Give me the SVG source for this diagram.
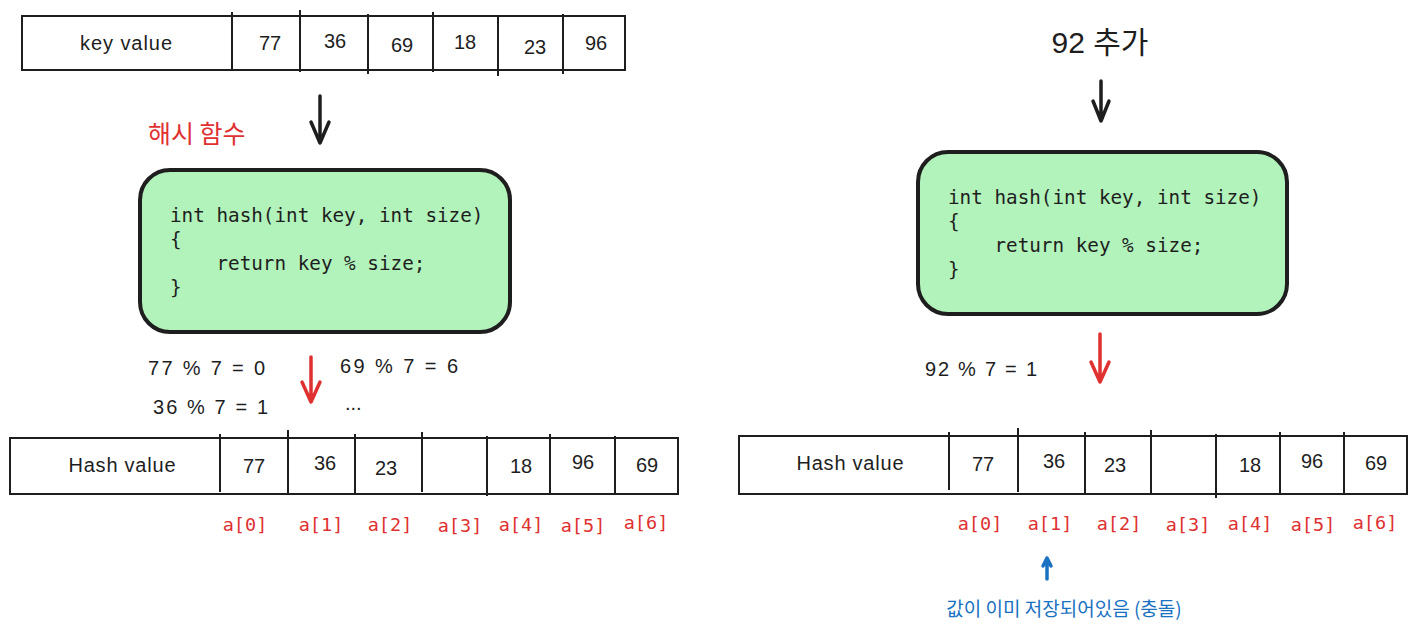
<svg xmlns="http://www.w3.org/2000/svg" width="1417" height="635" viewBox="0 0 1417 635">
<style>
.cell{fill:none;stroke:#1e1e1e;stroke-width:2}
.div{stroke:#1e1e1e;stroke-width:2}
.hand{font-family:"Liberation Sans","Noto Sans CJK KR",sans-serif;font-size:20px;fill:#1e1e1e}
.code{font-family:"DejaVu Sans Mono","Liberation Mono",monospace;font-size:19.3px;fill:#1e1e1e;white-space:pre}
.idx{font-family:"DejaVu Sans Mono","Liberation Mono",monospace;font-size:18.5px;fill:#e03131}
.box{fill:#b2f2bb;stroke:#1e1e1e;stroke-width:4}
.arr{fill:none;stroke-width:3.5;stroke-linecap:round;stroke-linejoin:round}
</style>

<g id="key-table">
<rect class="cell" x="22" y="16" width="603" height="54"/>
<line class="div" x1="232" y1="12" x2="232" y2="70"/>
<line class="div" x1="300" y1="10" x2="300" y2="72"/>
<line class="div" x1="368" y1="14" x2="368" y2="74"/>
<line class="div" x1="433" y1="12" x2="433" y2="72"/>
<line class="div" x1="498" y1="16" x2="498" y2="76"/>
<line class="div" x1="563" y1="14" x2="563" y2="74"/>
<text class="hand" x="126" y="50" text-anchor="middle" textLength="92">key value</text>
<text class="hand" x="270" y="50" text-anchor="middle">77</text>
<text class="hand" x="335" y="48" text-anchor="middle">36</text>
<text class="hand" x="402" y="52" text-anchor="middle">69</text>
<text class="hand" x="465" y="49" text-anchor="middle">18</text>
<text class="hand" x="535" y="54" text-anchor="middle">23</text>
<text class="hand" x="596" y="50" text-anchor="middle">96</text>
</g>

<g id="label-hash-fn">
<text x="148" y="143" font-family="'Noto Sans CJK KR',sans-serif" font-size="25" fill="#e03131">해시 함수</text>
</g>

<g id="hash-box-left">
<rect class="box" x="140" y="170" width="370" height="162" rx="30"/>
<text class="code" x="170" y="222">int hash(int key, int size)</text>
<text class="code" x="170" y="246">{</text>
<text class="code" x="170" y="270" xml:space="preserve">    return key % size;</text>
<text class="code" x="170" y="294">}</text>
</g>

<g id="calc-left">
<text class="hand" x="148" y="375" textLength="117">77 % 7 = 0</text>
<text class="hand" x="340" y="373" textLength="118">69 % 7 = 6</text>
<text class="hand" x="153" y="414" textLength="115">36 % 7 = 1</text>
<text class="hand" x="345" y="410">...</text>
</g>

<g id="hash-table-left">
<rect class="cell" x="10" y="438" width="668" height="56"/>
<line class="div" x1="220" y1="434" x2="220" y2="492"/>
<line class="div" x1="288" y1="430" x2="288" y2="494"/>
<line class="div" x1="355" y1="434" x2="355" y2="494"/>
<line class="div" x1="422" y1="432" x2="422" y2="492"/>
<line class="div" x1="487" y1="436" x2="487" y2="496"/>
<line class="div" x1="550" y1="434" x2="550" y2="494"/>
<line class="div" x1="615" y1="436" x2="615" y2="494"/>
<text class="hand" x="122" y="472" text-anchor="middle" textLength="107">Hash value</text>
<text class="hand" x="254" y="473" text-anchor="middle">77</text>
<text class="hand" x="325" y="470" text-anchor="middle">36</text>
<text class="hand" x="386" y="475" text-anchor="middle">23</text>
<text class="hand" x="521" y="473" text-anchor="middle">18</text>
<text class="hand" x="583" y="469" text-anchor="middle">96</text>
<text class="hand" x="647" y="472" text-anchor="middle">69</text>
</g>

<g id="index-left">
<text class="idx" x="245" y="531" text-anchor="middle">a[0]</text>
<text class="idx" x="321" y="531" text-anchor="middle">a[1]</text>
<text class="idx" x="390" y="531" text-anchor="middle">a[2]</text>
<text class="idx" x="460" y="532" text-anchor="middle">a[3]</text>
<text class="idx" x="521" y="531" text-anchor="middle">a[4]</text>
<text class="idx" x="583" y="532" text-anchor="middle">a[5]</text>
<text class="idx" x="646" y="529" text-anchor="middle">a[6]</text>
</g>

<g id="label-add92">
<text x="1100" y="53" text-anchor="middle" font-family="'Liberation Sans','Noto Sans CJK KR',sans-serif" font-size="30" fill="#1e1e1e">92 추가</text>
</g>

<g id="hash-box-right">
<rect class="box" x="918" y="152" width="369" height="162" rx="30"/>
<text class="code" x="948" y="204">int hash(int key, int size)</text>
<text class="code" x="948" y="228">{</text>
<text class="code" x="948" y="252" xml:space="preserve">    return key % size;</text>
<text class="code" x="948" y="276">}</text>
</g>

<g id="calc-right">
<text class="hand" x="925" y="376" textLength="112">92 % 7 = 1</text>
</g>

<g id="hash-table-right">
<rect class="cell" x="739" y="436" width="668" height="58"/>
<line class="div" x1="949" y1="432" x2="949" y2="490"/>
<line class="div" x1="1018" y1="428" x2="1018" y2="492"/>
<line class="div" x1="1085" y1="432" x2="1085" y2="494"/>
<line class="div" x1="1151" y1="430" x2="1151" y2="494"/>
<line class="div" x1="1216" y1="434" x2="1216" y2="498"/>
<line class="div" x1="1280" y1="432" x2="1280" y2="494"/>
<line class="div" x1="1344" y1="432" x2="1344" y2="494"/>
<text class="hand" x="850" y="470" text-anchor="middle" textLength="107">Hash value</text>
<text class="hand" x="983" y="471" text-anchor="middle">77</text>
<text class="hand" x="1054" y="468" text-anchor="middle">36</text>
<text class="hand" x="1115" y="472" text-anchor="middle">23</text>
<text class="hand" x="1250" y="472" text-anchor="middle">18</text>
<text class="hand" x="1312" y="468" text-anchor="middle">96</text>
<text class="hand" x="1376" y="470" text-anchor="middle">69</text>
</g>

<g id="index-right">
<text class="idx" x="980" y="530" text-anchor="middle">a[0]</text>
<text class="idx" x="1050" y="530" text-anchor="middle">a[1]</text>
<text class="idx" x="1119" y="530" text-anchor="middle">a[2]</text>
<text class="idx" x="1188" y="531" text-anchor="middle">a[3]</text>
<text class="idx" x="1250" y="530" text-anchor="middle">a[4]</text>
<text class="idx" x="1313" y="531" text-anchor="middle">a[5]</text>
<text class="idx" x="1375" y="529" text-anchor="middle">a[6]</text>
</g>

<g id="label-collision">
<text x="1064" y="616" text-anchor="middle" font-family="'Noto Sans CJK KR',sans-serif" font-size="19" fill="#1971c2">값이 이미 저장되어있음 (충돌)</text>
</g>

<g id="connectors">
<path class="arr" stroke="#1e1e1e" d="M320 96 L320 143 M311 122 L320 143 L329 122"/>
<path class="arr" stroke="#e03131" d="M311 357 L311 402 M302 382 L311 402 L320 382"/>
<path class="arr" stroke="#1e1e1e" d="M1101 81 L1101 121 M1093 101 L1101 121 L1109 101"/>
<path class="arr" stroke="#e03131" d="M1100 334 L1100 382 M1091 362 L1100 382 L1109 362"/>
<path class="arr" stroke="#1971c2" stroke-width="2" d="M1047 579 L1047 558 M1043 566 L1047 558 L1051 566"/>
</g>
</svg>
